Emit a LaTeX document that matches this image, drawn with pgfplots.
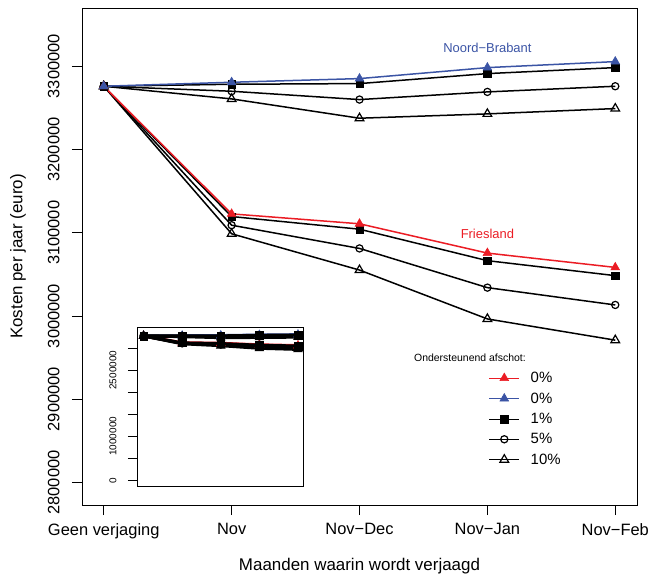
\documentclass[border=0pt]{standalone}
\usepackage{fontspec}
\setmainfont{Liberation Sans}
\usepackage{pgfplots}
\usepackage{pgfplotstable}
\pgfplotsset{compat=1.18}
\definecolor{nbblue}{RGB}{59,84,165}
\definecolor{frred}{RGB}{235,28,36}

% Friesland
\pgfplotstableread{
x r0 p1 p5 p10
0 3276000 3276000 3276000 3276000
1 3122700 3119500 3109100 3098800
2 3110800 3104300 3081200 3055200
3 3075600 3066500 3034100 2996500
4 3058400 3048500 3013300 2971000
}\fr
% Noord-Brabant
\pgfplotstableread{
x b0 p1 p5 p10
0 3276000 3276000 3276000 3276000
1 3280800 3278400 3270000 3260800
2 3285200 3279200 3260000 3237600
3 3298400 3291200 3269200 3242800
4 3305600 3298400 3276000 3249200
}\nb

\pgfplotsset{
  ftri/.style={mark=triangle*, mark size=5bp, mark options={solid, line width=0.6bp}},
  fsq/.style={mark=square*, mark size=3.8bp, mark options={solid, line width=0.4bp}},
  ocirc/.style={mark=o, mark size=3.6bp, mark options={solid, line width=1.2bp, fill=white}},
  otri/.style={mark=triangle, mark size=5bp, mark options={solid, line width=1.2bp, fill=white}},
}

\begin{document}
\begin{tikzpicture}
\useasboundingbox (-82bp,-76bp) rectangle (566bp,505bp);
\begin{axis}[
  at={(0bp,0bp)}, anchor=south west,
  scale only axis, width=555bp, height=497bp,
  xmin=-0.17, xmax=4.17, ymin=2773000, ymax=3370000,
  xtick={0,1,2,3,4},
  xticklabels={Geen verjaging,Nov,Nov−Dec,Nov−Jan,Nov−Feb},
  ytick={2800000,2900000,3000000,3100000,3200000,3300000},
  scaled y ticks=false,
  tick align=outside, major tick length=10bp,
  xtick pos=bottom, ytick pos=left,
  axis line style={line width=0.7bp},
  tick style={black, line width=0.7bp},
  tick label style={font=\fontsize{16.5}{20}\selectfont},
  xticklabel style={yshift=-5bp},
  yticklabel style={rotate=90, anchor=south, yshift=9bp, /pgf/number format/fixed, /pgf/number format/1000 sep={}, /pgf/number format/assume math mode=true},
  xlabel={Maanden waarin wordt verjaagd},
  ylabel={Kosten per jaar (euro)},
  label style={font=\fontsize{17}{20}\selectfont},
  xlabel style={at={(axis description cs:0.5,-0.1227)}, anchor=center},
  ylabel style={at={(axis description cs:-0.1153,0.5)}, anchor=center},
  legend style={at={(axis description cs:0.7274,0.2757)}, anchor=north west, draw=none, fill=none,
    font=\fontsize{15}{15}\selectfont, row sep=4.5bp, column sep=9bp},
  legend cell align=left,
  legend image code/.code={\draw[mark repeat=2,mark phase=2,#1] plot coordinates {(0bp,0bp) (15bp,0bp) (30bp,0bp)};},
]
% black series
\addplot[black, line width=1.5bp, otri, forget plot] table[x=x,y=p10] {\fr};
\addplot[black, line width=1.5bp, ocirc, forget plot] table[x=x,y=p5] {\fr};
\addplot[black, line width=1.5bp, fsq, forget plot] table[x=x,y=p1] {\fr};
\addplot[black, line width=1.5bp, otri, forget plot] table[x=x,y=p10] {\nb};
\addplot[black, line width=1.5bp, ocirc, forget plot] table[x=x,y=p5] {\nb};
\addplot[black, line width=1.5bp, fsq, forget plot] table[x=x,y=p1] {\nb};
% coloured 0% series
\addplot[frred, line width=1.5bp, ftri, forget plot] table[x=x,y=r0] {\fr};
\addplot[nbblue, line width=1.5bp, ftri, forget plot] table[x=x,y=b0] {\nb};
% legend
\addlegendimage{frred, line width=0.8bp, ftri}
\addlegendentry{0\%}
\addlegendimage{nbblue, line width=0.8bp, ftri}
\addlegendentry{0\%}
\addlegendimage{black, line width=0.8bp, fsq}
\addlegendentry{1\%}
\addlegendimage{black, line width=0.8bp, ocirc}
\addlegendentry{5\%}
\addlegendimage{black, line width=0.8bp, otri}
\addlegendentry{10\%}
\node[font=\fontsize{10.5}{12}\selectfont] at (axis description cs:0.699,0.296) {Ondersteunend afschot:};
\node[font=\fontsize{13}{15}\selectfont, text=nbblue] at (axis cs:3,3321600) {Noord−Brabant};
\node[font=\fontsize{13}{15}\selectfont, text=frred] at (axis cs:3,3099000) {Friesland};
\end{axis}

% inset
\begin{axis}[
  at={(55bp,19bp)}, anchor=south west,
  scale only axis, width=166bp, height=159bp,
  xmin=-0.17, xmax=4.13, ymin=-130000, ymax=3480000,
  xtick=\empty,
  ytick={0,500000,1000000,1500000,2000000,2500000,3000000},
  yticklabels={0,,1000000,,,2500000,},
  scaled y ticks=false,
  tick align=outside, major tick length=9bp, ytick pos=left,
  axis line style={line width=0.7bp},
  tick style={black, line width=0.6bp},
  yticklabel style={rotate=90, anchor=south, yshift=8bp, font=\fontsize{10}{12}\selectfont},
  axis background/.style={fill=white},
]
\addplot[frred, line width=3bp, ftri] table[x=x,y=r0] {\fr};
\addplot[nbblue, line width=3bp, ftri] table[x=x,y=b0] {\nb};
\addplot[black, line width=3bp, fsq] table[x=x,y=p1] {\fr};
\addplot[black, line width=3bp, fsq] table[x=x,y=p1] {\nb};
\addplot[black, line width=3bp, ocirc] table[x=x,y=p5] {\fr};
\addplot[black, line width=3bp, ocirc] table[x=x,y=p5] {\nb};
\addplot[black, line width=3bp, ftri] table[x=x,y=p10] {\fr};
\addplot[black, line width=3bp, ftri] table[x=x,y=p10] {\nb};
\end{axis}
\end{tikzpicture}
\end{document}
